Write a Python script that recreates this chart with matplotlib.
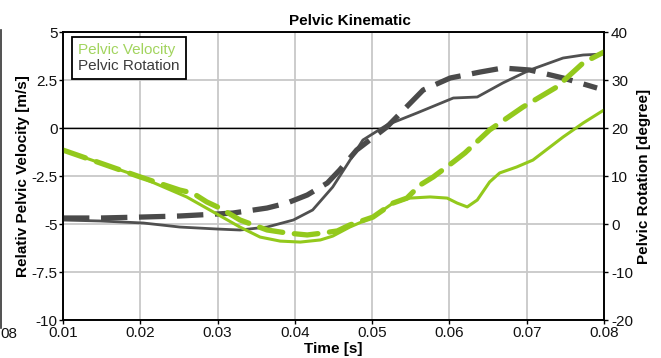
#!/usr/bin/env python3
"""Pelvic kinematic: velocity (left axis) and rotation (right axis) over time"""

import matplotlib
matplotlib.use("Agg")
import matplotlib.pyplot as plt
from matplotlib.lines import Line2D

plt.rcParams['font.family'] = ['Liberation Sans', 'DejaVu Sans']

# Pelvic velocity, solid (m/s)
vel_solid_t = [0.0100, 0.0148, 0.0200, 0.0260, 0.0297, 0.0329, 0.0355, 0.0381,
               0.0407, 0.0433, 0.0449, 0.0471, 0.0501, 0.0527, 0.0549, 0.0575,
               0.0597, 0.0610, 0.0623, 0.0636, 0.0652, 0.0665, 0.0687, 0.0708,
               0.0747, 0.0773, 0.0800]
vel_solid = [-1.15, -1.82, -2.55, -3.59, -4.43, -5.16, -5.68, -5.89,
             -5.94, -5.83, -5.63, -5.16, -4.64, -3.91, -3.65, -3.59,
             -3.65, -3.91, -4.11, -3.75, -2.81, -2.34, -2.03, -1.67,
             -0.47, 0.26, 0.94]

# Pelvic velocity, dashed (m/s)
vel_dash_t = [0.0100, 0.0148, 0.0200, 0.0251, 0.0268, 0.0286, 0.0303, 0.0329,
              0.0364, 0.0390, 0.0416, 0.0436, 0.0455, 0.0471, 0.0501, 0.0527,
              0.0545, 0.0562, 0.0579, 0.0605, 0.0620, 0.0652, 0.0695, 0.0739,
              0.0773, 0.0800]
vel_dash = [-1.15, -1.82, -2.55, -3.23, -3.39, -3.85, -4.17, -4.79,
            -5.31, -5.47, -5.57, -5.47, -5.36, -5.05, -4.64, -3.91,
            -3.65, -2.97, -2.55, -1.77, -1.30, -0.10, 1.09, 2.14,
            3.39, 3.96]

# Pelvic rotation, solid (degree)
rot_solid_t = [0.0100, 0.0148, 0.0204, 0.0251, 0.0299, 0.0329, 0.0364, 0.0398,
               0.0423, 0.0449, 0.0469, 0.0488, 0.0519, 0.0558, 0.0605, 0.0636,
               0.0669, 0.0704, 0.0747, 0.0773, 0.0800]
rot_solid = [0.83, 0.63, 0.21, -0.63, -1.04, -1.25, -0.63, 0.83,
             2.92, 7.71, 12.71, 17.50, 20.63, 23.13, 26.25, 26.46,
             29.38, 32.08, 34.58, 35.21, 35.42]

# Pelvic rotation, dashed (degree)
rot_dash_t = [0.0100, 0.0148, 0.0204, 0.0251, 0.0299, 0.0320, 0.0364, 0.0390,
              0.0416, 0.0442, 0.0458, 0.0480, 0.0519, 0.0566, 0.0601, 0.0640,
              0.0669, 0.0704, 0.0747, 0.0791]
rot_dash = [1.25, 1.25, 1.46, 1.67, 2.08, 2.29, 3.33, 4.38,
            6.04, 8.54, 11.25, 15.42, 20.21, 27.92, 30.42, 31.67,
            32.50, 32.08, 30.42, 28.33]

x_ticks = [0.01, 0.02, 0.03, 0.04, 0.05, 0.06, 0.07, 0.08]
vel_ticks = [-10, -7.5, -5, -2.5, 0, 2.5, 5]
rot_ticks = [-20, -10, 0, 10, 20, 30, 40]

GREEN = '#93c91c'
GRAY = '#4a4a4a'
FS = 11

fig = plt.figure(figsize=(6.61, 3.58), dpi=100)
ax = fig.add_axes([0.0953, 0.1061, 0.8185, 0.8045])
ax2 = ax.twinx()

ax.set_xlim(0.01, 0.08)
ax.set_ylim(-10, 5)
ax2.set_ylim(-20, 40)

ax.set_xticks(x_ticks)
ax.set_xticklabels([f'{v:g}' for v in x_ticks])
ax.set_yticks(vel_ticks)
ax.set_yticklabels([f'{v:g}' for v in vel_ticks])
ax2.set_yticks(rot_ticks)
ax2.set_yticklabels([f'{v:g}' for v in rot_ticks])

ax.grid(True, color='#c8c8c8', linewidth=1.3)
ax.set_axisbelow(True)
ax.axhline(0, color='black', linewidth=1.0, zorder=1)

# rotation on the right axis
ax2.plot(rot_solid_t, rot_solid, color='#505050', linewidth=2.0,
         solid_capstyle='round')
ax2.plot(rot_dash_t, rot_dash, color=GRAY, linewidth=3.8,
         dashes=(5, 2.2), dash_capstyle='butt')

# velocity belongs to the left axis; map onto the right scale so it draws on top
def vel_to_rot(v):
    return [(x + 5) * 4 for x in v]

ax2.plot(vel_solid_t, vel_to_rot(vel_solid), color=GREEN, linewidth=2.2,
         solid_capstyle='round')
ax2.plot(vel_dash_t, vel_to_rot(vel_dash), color=GREEN, linewidth=3.8,
         dashes=(4.5, 2.2), dash_capstyle='round')

for a in (ax, ax2):
    for s in a.spines.values():
        s.set_linewidth(1.2)
        s.set_color('black')

ax.tick_params(axis='both', labelsize=FS, length=3, width=1, pad=1,
               colors='black', labelcolor='#111111')
ax2.tick_params(axis='y', labelsize=FS, length=3, width=1, pad=2,
                labelcolor='#111111')

ax.set_xlabel('Time [s]', fontsize=FS, fontweight='bold', labelpad=1.5)
ax.set_ylabel('Relativ Pelvic Velocity [m/s]', fontsize=FS,
              fontweight='bold', labelpad=1)
ax2.set_ylabel('Pelvic Rotation [degree]', fontsize=FS,
               fontweight='bold', labelpad=3)
ax.set_title('Pelvic Kinematic', fontsize=FS, fontweight='bold', pad=5,
             x=0.53)

handles = [Line2D([], [], linestyle='none'), Line2D([], [], linestyle='none')]
leg = ax2.legend(handles, ['Pelvic Velocity', 'Pelvic Rotation'],
                 loc='upper left', bbox_to_anchor=(0.0166, 0.983),
                 borderaxespad=0, handlelength=0, handletextpad=0,
                 borderpad=0.4, labelspacing=0.1, fontsize=FS,
                 fancybox=False, framealpha=1)
leg.get_frame().set_edgecolor('black')
leg.get_frame().set_linewidth(1.3)
leg.get_texts()[0].set_color('#a2d45e')
leg.get_texts()[1].set_color('#3c3c3c')

# neighbour chart's edge at the left
fig.add_artist(Line2D([0.002, 0.002], [0.083, 0.915], color='#333333',
                      linewidth=1.2, transform=fig.transFigure))
fig.text(0.001, 0.055, '08', fontsize=FS, color='#111111', ha='left')

fig.savefig('out.png', dpi=100)
